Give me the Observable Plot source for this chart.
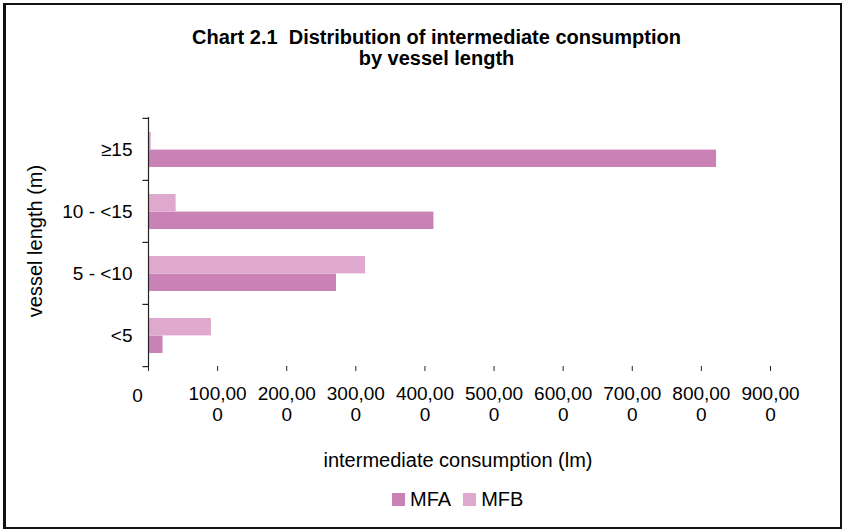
<!DOCTYPE html>
<html>
<head>
<meta charset="utf-8">
<script src="https://cdn.jsdelivr.net/npm/d3@7"></script>
<script src="https://cdn.jsdelivr.net/npm/@observablehq/plot@0.6"></script>
<style>
  html, body { margin: 0; padding: 0; background: #fff; }
  #wrap { position: relative; width: 842px; height: 530px; font-family: "Liberation Sans", Arial, sans-serif; color: #000; overflow: hidden; }
  #box { position: absolute; left: 3px; top: 3px; width: 834px; height: 522px; border: 2px solid #111; border-left-width: 3px; box-sizing: content-box; pointer-events: none; }
  #title { position: absolute; left: 0; width: 873px; top: 27px; text-align: center; font-weight: bold; font-size: 20px; line-height: 21px; }
  #chart { position: absolute; left: 0; top: 0; }
  #ytitle { position: absolute; left: 35px; top: 241px; transform: translate(-50%, -50%) rotate(-90deg); white-space: nowrap; font-size: 20px; line-height: 22px; }
  #xtitle { position: absolute; left: 0; width: 916px; top: 448px; text-align: center; font-size: 20px; line-height: 24px; }
  #legend { position: absolute; left: 392px; top: 488px; font-size: 20px; line-height: 22px; display: flex; align-items: center; }
  .key { display: inline-flex; align-items: center; margin-right: 12px; }
  .sw { display: inline-block; width: 13px; height: 13px; margin-right: 5px; }
</style>
</head>
<body>
<div id="wrap">
  <div id="chart"></div>
  <div id="title">Chart 2.1&nbsp; Distribution of intermediate consumption<br>by vessel length</div>
  <div id="ytitle">vessel length (m)</div>
  <div id="xtitle">intermediate consumption (lm)</div>
  <div id="legend"></div>
  <div id="box"></div>
</div>
<script>
// Vessel length classes, top to bottom
const lengths = ["≥15", "10 - <15", "5 - <10", "<5"];
// Intermediate consumption per length class
const mfa = [822, 413, 272, 21];
const mfb = [4, 40, 314, 91];
const seriesNames = ["MFA", "MFB"];
const seriesColors = ["#c981b6", "#dfa9cd"];
const xTicks = [0, 100, 200, 300, 400, 500, 600, 700, 800, 900];

const rowsA = lengths.map((c, i) => ({length: c, value: mfa[i]}));
const rowsB = lengths.map((c, i) => ({length: c, value: mfb[i]}));

// "100,000" style labels, wrapped before the last digit
const fmt = d => {
  const t = d3.format(",")(d * 1000);
  return t.slice(0, t.length - 1) + "\n" + t.slice(-1);
};

const axisColor = "#222";

const chart = Plot.plot({
  width: 842,
  height: 530,
  marginLeft: 148,
  marginRight: 72,
  marginTop: 117,
  marginBottom: 164,
  style: {fontFamily: "Liberation Sans, Arial, sans-serif", fontSize: "19px", color: "#000", background: "transparent"},
  x: {domain: [0, 900], axis: null, label: null},
  y: {domain: lengths, padding: 0, axis: null, label: null},
  marks: [
    // MFB bar sits in the upper half of the pair, MFA in the lower half
    Plot.barX(rowsB, {y: "length", x: "value", fill: seriesColors[1], insetTop: 14, insetBottom: 30.6}),
    Plot.barX(rowsA, {y: "length", x: "value", fill: seriesColors[0], insetTop: 31.6, insetBottom: 13}),
    // vertical axis line
    Plot.ruleX([0], {stroke: axisColor, strokeWidth: 1.2}),
    // tick marks between categories
    Plot.ruleY(lengths, {y: d => d, x1: -8, x2: 0, dy: -31.1, stroke: axisColor, strokeWidth: 1.2}),
    Plot.ruleY(lengths.slice(-1), {y: d => d, x1: -8, x2: 0, dy: 31.1, stroke: axisColor, strokeWidth: 1.2}),
    // category labels
    Plot.axisY({domain: lengths, label: null, tickSize: 0, tickPadding: 16, fontSize: 19, fill: "#000"}),
    // horizontal axis
    Plot.ruleY([0], {frameAnchor: "bottom", stroke: axisColor, strokeWidth: 1.2}),
    Plot.axisX({ticks: xTicks, label: null, tickSize: 5, tickPadding: 14, stroke: axisColor, tickFormat: d => d === 0 ? "" : fmt(d), lineHeight: 1.1, fontSize: 19, fill: "#000"}),
    // the zero label sits a little left of its tick
    Plot.text(xTicks.slice(0, 1), {x: d => d, frameAnchor: "bottom", lineAnchor: "top", dy: 22, dx: -11, text: d => "0", fontSize: 19, fill: "#000"})
  ]
});
document.getElementById("chart").appendChild(chart);

// legend
const legend = document.getElementById("legend");
seriesNames.forEach((name, i) => {
  const key = document.createElement("span");
  key.className = "key";
  const sw = document.createElement("span");
  sw.className = "sw";
  sw.style.background = seriesColors[i];
  key.appendChild(sw);
  key.appendChild(document.createTextNode(name));
  legend.appendChild(key);
});
</script>
</body>
</html>
